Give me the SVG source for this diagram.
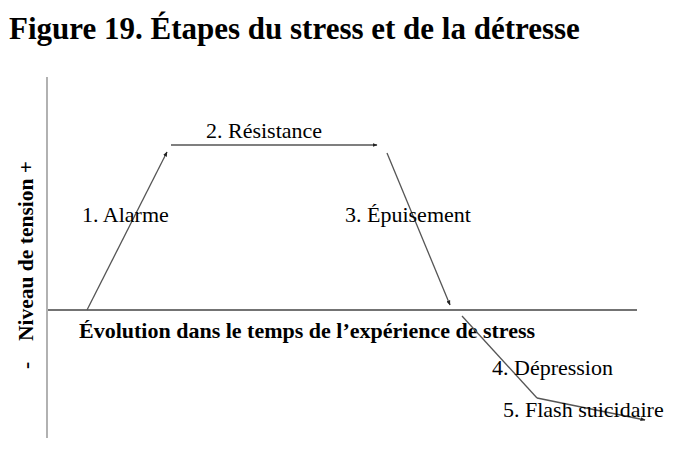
<svg xmlns="http://www.w3.org/2000/svg" width="690" height="456" viewBox="0 0 690 456">
<defs>
<style>
.t{font-family:"Liberation Serif","Times New Roman",serif;font-size:22px;fill:#000}
.b{font-family:"Liberation Serif","Times New Roman",serif;font-weight:bold;fill:#000}
.ax{stroke:#444;stroke-width:1.3;fill:none}
.cn{stroke:#555;stroke-width:1.3;fill:none}
</style>
<marker id="ah" viewBox="0 0 10 10" refX="9" refY="5" markerWidth="5" markerHeight="5" orient="auto" markerUnits="userSpaceOnUse">
<path d="M0,1 L10,5 L0,9 z" fill="#222"/>
</marker>
</defs>
<rect width="690" height="456" fill="#fff"/>
<text class="b" x="9" y="39" font-size="31">Figure 19. Étapes du stress et de la détresse</text>
<g id="axes">
<line class="ax" x1="47" y1="77" x2="47" y2="438" style="stroke:#888"/>
<line class="ax" x1="48" y1="310" x2="637" y2="310"/>
<text class="b" font-size="21.5" transform="translate(33,341) rotate(-90)">Niveau de tension +</text>
<text class="b" font-size="21.5" transform="translate(33,369) rotate(-90)">-</text>
<text class="b" x="79" y="338" font-size="22">Évolution dans le temps de l’expérience de stress</text>
</g>
<g id="connectors">
<line class="cn" x1="87" y1="310" x2="167" y2="152" marker-end="url(#ah)"/>
<line class="cn" x1="171" y1="145" x2="377" y2="145" marker-end="url(#ah)"/>
<line class="cn" x1="387" y1="153" x2="450" y2="305" marker-end="url(#ah)"/>
<line class="cn" x1="462" y1="316" x2="537" y2="398"/>
<line class="cn" x1="537" y1="398" x2="645" y2="420" marker-end="url(#ah)"/>
</g>
<g id="n1"><text class="t" x="82" y="222">1. Alarme</text></g>
<g id="n2"><text class="t" x="206" y="138">2. Résistance</text></g>
<g id="n3"><text class="t" x="345" y="222">3. Épuisement</text></g>
<g id="n4"><text class="t" x="492" y="375">4. Dépression</text></g>
<g id="n5"><text class="t" x="503" y="417">5. Flash suicidaire</text></g>
</svg>
